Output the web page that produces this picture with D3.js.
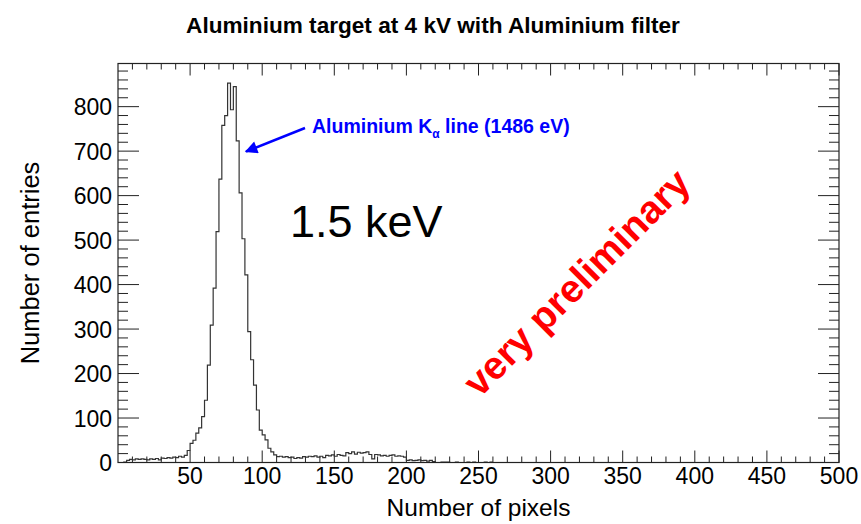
<!DOCTYPE html>
<html>
<head>
<meta charset="utf-8">
<script src="https://cdn.jsdelivr.net/npm/d3@7"></script>
<style>
  body { margin: 0; background: #fff; }
  text { font-family: "Liberation Sans", Arial, sans-serif; }
</style>
</head>
<body>
<script>
// histogram: bins of width 2 starting at 0
var binWidth = 2;
var counts = [
    0, 0, 1, 5, 7, 6, 8, 7, 8, 7,
    6, 8, 7, 9, 6, 10, 9, 11, 10, 12,
    11, 14, 12, 16, 27, 43, 50, 66, 78, 103,
    140, 219, 309, 392, 519, 637, 758, 780, 853, 793,
    845, 723, 606, 503, 422, 294, 231, 174, 118, 73,
    62, 51, 32, 24, 17, 13, 14, 12, 13, 11,
    12, 9, 11, 10, 13, 12, 14, 13, 15, 12,
    14, 11, 16, 15, 17, 14, 18, 16, 15, 22,
    20, 24, 19, 23, 21, 22, 24, 18, 8, 18,
    17, 15, 16, 14, 16, 17, 14, 15, 14, 12,
    5, 6, 4, 5, 6, 4, 5, 3, 5, 2,
    0, 0, 1, 1, 1, 0, 0, 1, 0, 0,
    0, 1, 0, 1, 0, 0, 0, 1, 0, 1
];
var xTicks = [50, 100, 150, 200, 250, 300, 350, 400, 450, 500];
var yTicks = [0, 100, 200, 300, 400, 500, 600, 700, 800];

window.onload = function() {
    var w = 861, h = 524;
    var pL = 118, pR = 839, pT = 63.5, pB = 462.5;

    var svg = d3.select('body')
        .append('svg')
        .attr('width', w)
        .attr('height', h);

    var x = d3.scaleLinear().domain([0, 500]).range([pL, pR]);
    var y = d3.scaleLinear().domain([0, 897]).range([pB, pT]);

    // minor ticks
    var xMinor = d3.range(10, 500, 10).filter(function(d) { return d % 50 !== 0; });
    var yMinor = d3.range(20, 897, 20).filter(function(d) { return d % 100 !== 0; });

    var axisColor = '#222';

    // bottom + top ticks
    function drawXTicks(vals, len) {
        svg.append('g').selectAll('line').data(vals).enter().append('line')
            .attr('x1', function(d) { return x(d); }).attr('x2', function(d) { return x(d); })
            .attr('y1', pB).attr('y2', pB - len)
            .style('stroke', axisColor).style('stroke-width', 1);
        svg.append('g').selectAll('line').data(vals).enter().append('line')
            .attr('x1', function(d) { return x(d); }).attr('x2', function(d) { return x(d); })
            .attr('y1', pT).attr('y2', pT + len)
            .style('stroke', axisColor).style('stroke-width', 1);
    }
    function drawYTicks(vals, len) {
        svg.append('g').selectAll('line').data(vals).enter().append('line')
            .attr('y1', function(d) { return y(d); }).attr('y2', function(d) { return y(d); })
            .attr('x1', pL).attr('x2', pL + len)
            .style('stroke', axisColor).style('stroke-width', 1);
        svg.append('g').selectAll('line').data(vals).enter().append('line')
            .attr('y1', function(d) { return y(d); }).attr('y2', function(d) { return y(d); })
            .attr('x1', pR).attr('x2', pR - len)
            .style('stroke', axisColor).style('stroke-width', 1);
    }
    drawXTicks(xTicks, 12);
    drawXTicks(xMinor, 6);
    drawYTicks(yTicks, 21);
    drawYTicks(yMinor, 10);

    // histogram outline
    var pts = counts.map(function(c, i) { return [i * binWidth, c]; });
    pts.push([counts.length * binWidth, counts[counts.length - 1]]);
    var line = d3.line()
        .x(function(d) { return x(d[0]); })
        .y(function(d) { return y(d[1]); })
        .curve(d3.curveStepAfter);
    svg.append('path')
        .datum(pts)
        .attr('d', line)
        .style('fill', 'none')
        .style('stroke', '#333')
        .style('stroke-width', 1.2);

    // frame
    svg.append('rect')
        .attr('x', pL).attr('y', pT)
        .attr('width', pR - pL).attr('height', pB - pT)
        .style('fill', 'none')
        .style('stroke', axisColor)
        .style('stroke-width', 1.2);

    // tick labels
    svg.append('g').selectAll('text').data(xTicks).enter().append('text')
        .attr('x', function(d) { return x(d); })
        .attr('y', 484)
        .attr('text-anchor', 'middle')
        .style('font-size', '23px')
        .text(function(d) { return d; });

    svg.append('g').selectAll('text').data(yTicks).enter().append('text')
        .attr('x', 112)
        .attr('y', function(d) { return y(d) + 8.5; })
        .attr('text-anchor', 'end')
        .style('font-size', '23px')
        .text(function(d) { return d; });

    // axis titles
    svg.append('text')
        .attr('x', (pL + pR) / 2)
        .attr('y', 516)
        .attr('text-anchor', 'middle')
        .style('font-size', '24.5px')
        .text('Number of pixels');

    svg.append('text')
        .attr('transform', 'translate(39,' + ((pT + pB) / 2) + ') rotate(-90)')
        .attr('text-anchor', 'middle')
        .style('font-size', '25.5px')
        .text('Number of entries');

    // title
    svg.append('text')
        .attr('x', 433)
        .attr('y', 33)
        .attr('text-anchor', 'middle')
        .style('font-size', '22.6px')
        .style('font-weight', 'bold')
        .text('Aluminium target at 4 kV with Aluminium filter');

    // annotation arrow
    svg.append('defs').append('marker')
        .attr('id', 'head')
        .attr('viewBox', '0 0 10 10')
        .attr('refX', 9).attr('refY', 5)
        .attr('markerWidth', 7).attr('markerHeight', 5)
        .attr('markerUnits', 'strokeWidth')
        .attr('orient', 'auto')
        .append('path')
        .attr('d', 'M0,0 L10,5 L0,10 Z')
        .style('fill', '#0000ff');

    svg.append('line')
        .attr('x1', 305).attr('y1', 128)
        .attr('x2', 246).attr('y2', 151.5)
        .style('stroke', '#0000ff')
        .style('stroke-width', 2.5)
        .attr('marker-end', 'url(#head)');

    var ann = svg.append('text')
        .attr('x', 312)
        .attr('y', 133)
        .style('font-size', '19.5px')
        .style('font-weight', 'bold')
        .style('fill', '#0000ff');
    ann.append('tspan').text('Aluminium K');
    ann.append('tspan').attr('dy', 5).style('font-size', '12px').text('\u03b1');
    ann.append('tspan').attr('dy', -5).text(' line (1486 eV)');

    svg.append('text')
        .attr('x', 290)
        .attr('y', 237)
        .style('font-size', '45px')
        .text('1.5 keV');

    svg.append('text')
        .attr('transform', 'translate(586,292) rotate(-45)')
        .attr('text-anchor', 'middle')
        .style('font-size', '39px')
        .style('font-weight', 'bold')
        .style('fill', '#ff0000')
        .text('very preliminary');
};
</script>
</body>
</html>
